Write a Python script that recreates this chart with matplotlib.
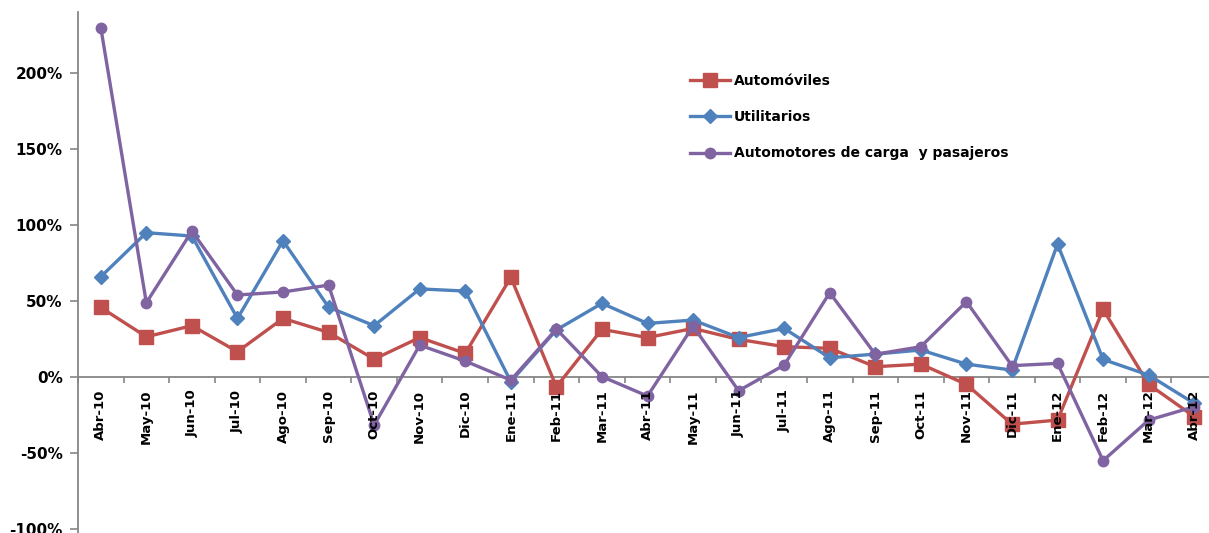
import matplotlib
matplotlib.use("Agg")
import matplotlib.pyplot as plt
import numpy as np

categories = ["Abr-10", "May-10", "Jun-10", "Jul-10", "Ago-10", "Sep-10", "Oct-10",
              "Nov-10", "Dic-10", "Ene-11", "Feb-11", "Mar-11", "Abr-11", "May-11",
              "Jun-11", "Jul-11", "Ago-11", "Sep-11", "Oct-11", "Nov-11", "Dic-11",
              "Ene-12", "Feb-12", "Mar-12", "Abr-12"]

automoviles = [45.8, 26.5, 33.8, 16.7, 38.6, 29.4, 11.8, 26.0, 15.6, 65.6, -6.4, 31.4, 26.0,
               32.0, 24.8, 20.0, 18.9, 6.8, 8.5, -4.8, -31.0, -28.3, 44.5, -4.8, -26.0]
utilitarios = [66.0, 95.0, 92.8, 38.6, 89.7, 46.0, 33.8, 58.0, 56.6, -3.0, 31.0, 48.5, 35.3,
               37.5, 26.0, 32.0, 12.7, 15.1, 17.8, 8.5, 4.6, 87.5, 11.6, 1.3, -17.3]
carga_pasajeros = [230.0, 48.9, 96.0, 54.0, 56.0, 60.5, -31.6, 21.0, 10.5, -2.0, 31.6, 0.3,
                   -12.5, 33.5, -9.0, 7.9, 55.5, 15.0, 20.0, 49.6, 7.5, 9.0, -55.0, -28.3, -19.5]

series_names = ["Automóviles", "Utilitarios", "Automotores de carga  y pasajeros"]
y_ticks = [-100, -50, 0, 50, 100, 150, 200]
y_tick_labels = ["-100%", "-50%", "0%", "50%", "100%", "150%", "200%"]

W, H = 1209, 533
fig = plt.figure(figsize=(W / 100, H / 100), dpi=100)
ax = fig.add_axes([78 / W, 0, (1217 - 78) / W, 521 / H])
ax.set_axisbelow(False)

x = np.arange(len(categories))
styles = [
    dict(color="#C0504D", marker="s", markersize=10),
    dict(color="#4F81BD", marker="D", markersize=7.5),
    dict(color="#8064A2", marker="o", markersize=7.5),
]
for vals, name, st in zip([automoviles, utilitarios, carga_pasajeros], series_names, styles):
    ax.plot(x, vals, linewidth=2.4, label=name, clip_on=False,
            markeredgecolor=st["color"], **st)

ax.set_xlim(-0.5, len(categories) - 0.5)
ax.set_ylim(-102.6, 240.2)

gray = "#868686"
for s in ["top", "right"]:
    ax.spines[s].set_visible(False)
ax.spines["left"].set_color(gray)
ax.spines["left"].set_linewidth(1.3)
ax.spines["left"].set_zorder(1.5)
ax.spines["bottom"].set_position(("data", 0))
ax.spines["bottom"].set_color(gray)
ax.spines["bottom"].set_linewidth(1.3)
ax.spines["bottom"].set_zorder(1.5)

ax.set_yticks(y_ticks)
ax.set_yticklabels(y_tick_labels, fontsize=11, fontweight="bold", family="DejaVu Sans")
ax.tick_params(axis="y", direction="out", length=6, width=1.2, color=gray, pad=5)

ax.set_xticks(x)
ax.set_xticklabels(categories, rotation=90, fontsize=9.5, fontweight="bold",
                   family="DejaVu Sans", va="top", ha="center")
ax.set_xticks(np.arange(len(categories) + 1) - 0.5, minor=True)
ax.tick_params(axis="x", which="major", length=0, pad=9)
ax.tick_params(axis="x", which="minor", direction="out", length=4, width=1.2, color=gray)

leg = fig.legend(loc="upper left", bbox_to_anchor=(683 / W, 1 - 67 / H), frameon=False,
                 prop=dict(family="DejaVu Sans", weight="bold", size=10),
                 handlelength=2.9, handletextpad=0.25, labelspacing=1.6, borderpad=0)

fig.savefig("out.png", dpi=100)
